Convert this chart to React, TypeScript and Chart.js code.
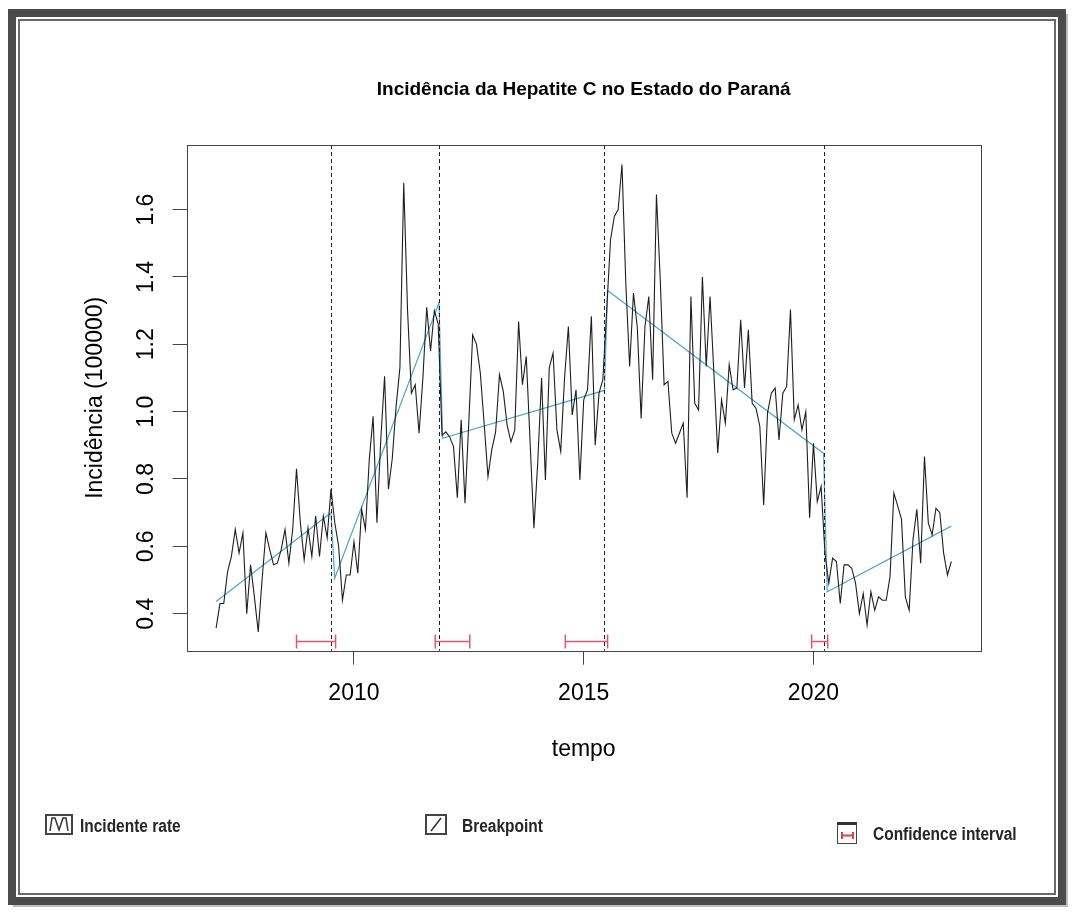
import React, { useEffect, useRef } from "react";
import { Chart, registerables } from "chart.js";

Chart.register(...registerables);

// ---------- DATA ----------
const START_YEAR = 2007;
const MONTHS = 12;

const y2007 = [0.357, 0.43, 0.43, 0.525, 0.57, 0.65, 0.58, 0.64, 0.4, 0.545, 0.45, 0.346];
const y2008 = [0.5, 0.64, 0.59, 0.545, 0.55, 0.59, 0.65, 0.55, 0.65, 0.83, 0.67, 0.56];
const y2009 = [0.655, 0.57, 0.69, 0.57, 0.69, 0.625, 0.77, 0.67, 0.6, 0.44, 0.515, 0.515];
const y2010 = [0.614, 0.52, 0.71, 0.65, 0.857, 0.986, 0.67, 0.916, 1.105, 0.77, 0.86, 1.015];
const y2011 = [1.13, 1.68, 1.3, 1.055, 1.08, 0.936, 1.1, 1.31, 1.18, 1.3, 1.26, 0.93];
const y2012 = [0.94, 0.925, 0.896, 0.744, 0.976, 0.728, 0.97, 1.228, 1.2, 1.115, 0.965, 0.807];
const y2013 = [0.887, 0.94, 1.11, 1.06, 0.96, 0.91, 0.946, 1.268, 1.08, 1.164, 0.91, 0.654];
const y2014 = [0.85, 1.1, 0.797, 1.13, 1.174, 0.946, 0.882, 1.1, 1.253, 0.99, 1.065, 0.797];
const y2015 = [1.035, 1.065, 1.283, 0.9, 1.055, 1.095, 1.3, 1.51, 1.58, 1.6, 1.734, 1.38];
const y2016 = [1.134, 1.352, 1.25, 0.98, 1.253, 1.342, 1.095, 1.645, 1.39, 1.08, 1.09, 0.936];
const y2017 = [0.906, 0.936, 0.966, 0.744, 1.342, 1.025, 1.005, 1.4, 1.134, 1.342, 1.115, 0.877];
const y2018 = [1.035, 0.966, 1.14, 1.065, 1.07, 1.273, 1.07, 1.243, 1.025, 1.01, 0.956, 0.723];
const y2019 = [0.996, 1.055, 1.07, 0.916, 1.055, 1.075, 1.303, 0.976, 1.02, 0.946, 1.0, 0.685];
const y2020 = [0.906, 0.733, 0.778, 0.58, 0.49, 0.565, 0.555, 0.43, 0.545, 0.545, 0.535, 0.49];
const y2021 = [0.4, 0.46, 0.366, 0.465, 0.41, 0.45, 0.44, 0.44, 0.51, 0.758, 0.72, 0.68];
const y2022 = [0.45, 0.41, 0.62, 0.71, 0.55, 0.867, 0.669, 0.634, 0.713, 0.7, 0.58, 0.515];
const y2023 = [0.555];

const incidence = [
  ...y2007, ...y2008, ...y2009, ...y2010, ...y2011, ...y2012, ...y2013, ...y2014,
  ...y2015, ...y2016, ...y2017, ...y2018, ...y2019, ...y2020, ...y2021, ...y2022, ...y2023,
];

// fitted segmented trend (segment start/end points)
const fitYears = [2007.0, 2009.5, 2009.58, 2011.85, 2011.93, 2015.45, 2015.52, 2020.22, 2020.3, 2023.0];
const fitValues = [0.436, 0.7, 0.505, 1.323, 0.921, 1.063, 1.36, 0.876, 0.465, 0.66];

// breakpoints and confidence intervals
const breakpointYears = [2009.5, 2011.85, 2015.45, 2020.22];
const ciLower = [2008.75, 2011.77, 2014.6, 2019.96];
const ciUpper = [2009.6, 2012.52, 2015.52, 2020.31];
const ciLevel = 0.319;

const xTicks = [2010, 2015, 2020];
const yTicks = [0.4, 0.6, 0.8, 1.0, 1.2, 1.4, 1.6];
const xRange = [2006.36, 2023.64];
const yRange = [0.29, 1.792];

const TITLE = "Incidência da Hepatite C no Estado do Paraná";
const X_TITLE = "tempo";
const Y_TITLE = "Incidência (100000)";
const LEGEND_ITEMS = ["Incidente rate", "Breakpoint", "Confidence interval"];

const FONT = '"Liberation Sans", Arial, Helvetica, sans-serif';
const LINE_COLOR = "#1e1e1e";
const FIT_COLOR = "#4da6d6";
const CI_COLOR = "#d9587a";

const overlayPlugin = {
  id: "overlay",
  afterDraw(chart: any) {
    const { ctx, chartArea: a, scales } = chart;
    const xs = scales.x;
    const ys = scales.y;
    ctx.save();
    // box
    ctx.strokeStyle = "#444";
    ctx.lineWidth = 1;
    ctx.strokeRect(Math.round(a.left) + 0.5, Math.round(a.top) + 0.5, Math.round(a.right - a.left), Math.round(a.bottom - a.top));
    // breakpoints
    ctx.setLineDash([4, 3]);
    ctx.strokeStyle = "#222";
    breakpointYears.forEach((b) => {
      const px = Math.round(xs.getPixelForValue(b)) + 0.5;
      ctx.beginPath();
      ctx.moveTo(px, a.top);
      ctx.lineTo(px, a.bottom);
      ctx.stroke();
    });
    ctx.setLineDash([]);
    // confidence intervals
    ctx.strokeStyle = CI_COLOR;
    ctx.lineWidth = 1.5;
    const cy = Math.round(ys.getPixelForValue(ciLevel)) + 0.5;
    ciLower.forEach((lo, k) => {
      const x1 = xs.getPixelForValue(lo);
      const x2 = xs.getPixelForValue(ciUpper[k]);
      ctx.beginPath();
      ctx.moveTo(x1, cy);
      ctx.lineTo(x2, cy);
      ctx.moveTo(x1, cy - 7);
      ctx.lineTo(x1, cy + 7);
      ctx.moveTo(x2, cy - 7);
      ctx.lineTo(x2, cy + 7);
      ctx.stroke();
    });
    // y tick labels (rotated, R style)
    ctx.fillStyle = "#000";
    ctx.font = `23px ${FONT}`;
    ctx.textAlign = "center";
    ctx.textBaseline = "middle";
    ys.ticks.forEach((t: any) => {
      const py = ys.getPixelForValue(t.value);
      ctx.save();
      ctx.translate(a.left - 40, py);
      ctx.rotate(-Math.PI / 2);
      ctx.fillText(t.value.toFixed(1), 0, 0);
      ctx.restore();
    });
    // axis titles
    const cx = (a.left + a.right) / 2;
    ctx.fillText(X_TITLE, cx, a.bottom + 99);
    ctx.save();
    ctx.translate(a.left - 91, (a.top + a.bottom) / 2);
    ctx.rotate(-Math.PI / 2);
    ctx.fillText(Y_TITLE, 0, 0);
    ctx.restore();
    // main title
    ctx.font = `bold 19px ${FONT}`;
    ctx.fillText(TITLE, cx, a.top - 55);
    ctx.restore();
  },
};

function LegendIcon({ kind }: { kind: number }) {
  if (kind === 0) {
    return (
      <svg width="28" height="21" style={{ display: "block" }}>
        <rect x="1" y="1" width="26" height="19" fill="#fff" stroke="#444" strokeWidth="2" />
        <polyline points="5,17 7,4 10,4 14,16 18,4 21,4 23,17" fill="none" stroke="#333" strokeWidth="1.5" />
      </svg>
    );
  }
  if (kind === 1) {
    return (
      <svg width="22" height="21" style={{ display: "block" }}>
        <rect x="1" y="1" width="20" height="19" fill="#fff" stroke="#444" strokeWidth="2" />
        <line x1="6" y1="17" x2="16" y2="4" stroke="#333" strokeWidth="1.5" />
      </svg>
    );
  }
  return (
    <svg width="20" height="22" style={{ display: "block" }}>
      <rect x="0.5" y="1.5" width="19" height="20" fill="#fff" stroke="#444" strokeWidth="1" />
      <rect x="0" y="0" width="20" height="3" fill="#333" />
      <line x1="5" y1="13.5" x2="16" y2="13.5" stroke="#e0404c" strokeWidth="2" />
      <line x1="5" y1="10" x2="5" y2="17" stroke="#e0404c" strokeWidth="2" />
      <line x1="16" y1="10" x2="16" y2="17" stroke="#e0404c" strokeWidth="2" />
    </svg>
  );
}

export default function App() {
  const canvasRef = useRef<HTMLCanvasElement | null>(null);

  useEffect(() => {
    if (!canvasRef.current) return;
    const seriesPoints = incidence.map((v, i) => ({ x: START_YEAR + i / MONTHS, y: v }));
    const fitPoints = fitYears.map((yr, i) => ({ x: yr, y: fitValues[i] }));
    const chart = new Chart(canvasRef.current, {
      type: "line",
      data: {
        datasets: [
          {
            label: LEGEND_ITEMS[0],
            data: seriesPoints,
            borderColor: LINE_COLOR,
            borderWidth: 1.1,
            pointRadius: 0,
            tension: 0,
          },
          {
            label: LEGEND_ITEMS[1],
            data: fitPoints,
            borderColor: FIT_COLOR,
            borderWidth: 1.2,
            pointRadius: 0,
            tension: 0,
          },
        ],
      },
      options: {
        responsive: false,
        maintainAspectRatio: false,
        animation: false,
        events: [],
        layout: { padding: { left: 78.7, right: 87.3, top: 137, bottom: 156.3 } },
        plugins: {
          legend: { display: false },
          tooltip: { enabled: false },
          title: { display: false },
        },
        scales: {
          x: {
            type: "linear",
            min: xRange[0],
            max: xRange[1],
            afterFit: (s: any) => {
              s.height = 100;
            },
            afterBuildTicks: (s: any) => {
              s.ticks = xTicks.map((v) => ({ value: v }));
            },
            ticks: {
              padding: 15,
              color: "#000",
              font: { family: FONT, size: 23 },
              maxRotation: 0,
              autoSkip: false,
              callback: (v: any) => String(v),
            },
            grid: { drawOnChartArea: false, drawTicks: true, tickLength: 14, color: "#444" },
            border: { display: false },
          },
          y: {
            type: "linear",
            min: yRange[0],
            max: yRange[1],
            afterFit: (s: any) => {
              s.width = 100;
            },
            afterBuildTicks: (s: any) => {
              s.ticks = yTicks.map((v) => ({ value: v }));
            },
            ticks: { display: false },
            grid: { drawOnChartArea: false, drawTicks: true, tickLength: 14, color: "#444" },
            border: { display: false },
          },
        },
      },
      plugins: [overlayPlugin],
    });
    return () => chart.destroy();
  }, []);

  const legendText: React.CSSProperties = {
    position: "absolute",
    fontFamily: FONT,
    fontWeight: "bold",
    fontSize: 18,
    lineHeight: "20px",
    color: "#262626",
    whiteSpace: "nowrap",
    transform: "scaleX(0.86)",
    transformOrigin: "left center",
  };

  return (
    <div style={{ position: "relative", width: 1060, height: 899 }}>
      <div
        style={{
          position: "absolute",
          left: 0,
          top: 1,
          width: 1058,
          height: 896,
          border: "8px solid #4b4b4b",
          boxSizing: "border-box",
          boxShadow: "5px 5px 0 #bdbdbd",
          background: "#fff",
        }}
      />
      <div
        style={{
          position: "absolute",
          left: 10,
          top: 11,
          width: 1038,
          height: 876,
          border: "2px solid #6a6a6a",
          boxSizing: "border-box",
          background: "#fff",
        }}
      />
      <canvas ref={canvasRef} width={1060} height={899} style={{ position: "absolute", left: 0, top: 0, width: 1060, height: 899 }} />
      <div style={{ position: "absolute", left: 37, top: 806 }}>
        <LegendIcon kind={0} />
      </div>
      <div style={{ ...legendText, left: 72, top: 807.5 }}>{LEGEND_ITEMS[0]}</div>
      <div style={{ position: "absolute", left: 417, top: 806 }}>
        <LegendIcon kind={1} />
      </div>
      <div style={{ ...legendText, left: 453.7, top: 807.5 }}>{LEGEND_ITEMS[1]}</div>
      <div style={{ position: "absolute", left: 828.7, top: 813.7 }}>
        <LegendIcon kind={2} />
      </div>
      <div style={{ ...legendText, left: 865, top: 816 }}>{LEGEND_ITEMS[2]}</div>
    </div>
  );
}
